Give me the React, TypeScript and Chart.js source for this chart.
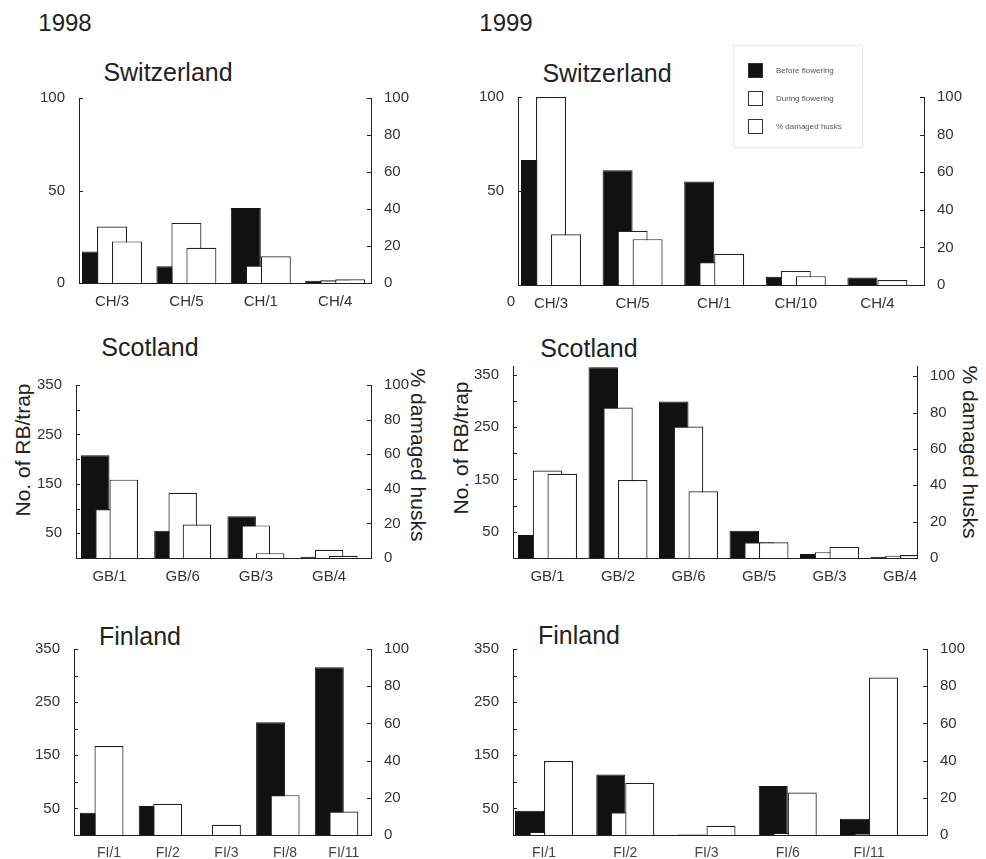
import React, { useEffect, useRef } from 'react';
import { Chart, registerables } from 'chart.js';

Chart.register(...registerables);

const FONT = '"Liberation Sans", Arial, Helvetica, sans-serif';

// ---------- DATA ----------
// 1998 Switzerland
const ch98Sites = ['CH/3', 'CH/5', 'CH/1', 'CH/4'];
const ch98Before = [17, 9, 40.5, 1.2];
const ch98During = [30.5, 32.5, 9.5, 1.5];
const ch98Pct = [22.5, 19, 14.5, 2];

// 1999 Switzerland
const ch99Sites = ['CH/3', 'CH/5', 'CH/1', 'CH/10', 'CH/4'];
const ch99Before = [66.5, 61, 55, 4.4, 4];
const ch99During = [100, 28.8, 12.2, 7.5, 0];
const ch99Pct = [27, 24.4, 16.6, 4.7, 2.6];

// 1998 Scotland
const gb98Sites = ['GB/1', 'GB/6', 'GB/3', 'GB/4'];
const gb98Before = [208, 55, 84.5, 2.5];
const gb98During = [99, 132, 66, 16.5];
const gb98Pct = [45.3, 19.4, 2.8, 1.3];

// 1999 Scotland
const gb99Sites = ['GB/1', 'GB/2', 'GB/6', 'GB/5', 'GB/3', 'GB/4'];
const gb99Before = [43.7, 364, 298.5, 51.8, 7.5, 2.4];
const gb99During = [166.8, 287, 251, 30, 11.2, 4.3];
const gb99Pct = [46.3, 42.9, 36.7, 8.6, 6.1, 1.6];

// 1998 Finland
const fi98Sites = ['FI/1', 'FI/2', 'FI/3', 'FI/8', 'FI/11'];
const fi98Before = [42, 54.6, 0, 212, 315.7];
const fi98During = [167.6, 58.9, 19.4, 75, 44];
const fi98Pct: (number | null)[] = [null, null, null, null, null];

// 1999 Finland
const fi99Sites = ['FI/1', 'FI/2', 'FI/3', 'FI/6', 'FI/11'];
const fi99Before = [45.8, 113.7, 1, 92, 30.5];
const fi99During = [6, 42.9, 0, 4, 2];
const fi99Pct = [39.8, 28, 5, 22.8, 84.7];

// axis ticks
const swissLeftTicks = [0, 50, 100];
const swissLeftLabels = [0, 50, 100];
const rbLeftTicks = [0, 50, 100, 150, 200, 250, 300, 350];
const rbLeftLabels = [50, 150, 250, 350];
const pctTicks = [0, 10, 20, 30, 40, 50, 60, 70, 80, 90, 100];
const pctLabels = [0, 20, 40, 60, 80, 100];

// ---------- LAYOUT ----------
type Panel = {
  sites: string[];
  before: (number | null)[];
  during: (number | null)[];
  pct: (number | null)[];
  leftMax: number;
  rightMax: number;
  leftTicks: number[];
  leftLabels: number[];
  L: number; R: number; T: number; B: number;
  c0: number; step: number; bar: number;
  xFontSize: number; xColor: string;
};

const panels: Panel[] = [
  { sites: ch98Sites, before: ch98Before, during: ch98During, pct: ch98Pct, leftMax: 100, rightMax: 100,
    leftTicks: swissLeftTicks, leftLabels: swissLeftLabels,
    L: 79, R: 371, T: 95, B: 283, c0: 112, step: 74.4, bar: 30, xFontSize: 15, xColor: '#333' },
  { sites: ch99Sites, before: ch99Before, during: ch99During, pct: ch99Pct, leftMax: 100, rightMax: 100,
    leftTicks: swissLeftTicks, leftLabels: [50, 100],
    L: 518, R: 924, T: 94, B: 285, c0: 551, step: 81.6, bar: 30, xFontSize: 15, xColor: '#333' },
  { sites: gb98Sites, before: gb98Before, during: gb98During, pct: gb98Pct, leftMax: 350, rightMax: 100,
    leftTicks: rbLeftTicks, leftLabels: rbLeftLabels,
    L: 76, R: 371, T: 382, B: 558, c0: 109.5, step: 73.2, bar: 28.5, xFontSize: 15, xColor: '#333' },
  { sites: gb99Sites, before: gb99Before, during: gb99During, pct: gb99Pct, leftMax: 366.3, rightMax: 105.6,
    leftTicks: rbLeftTicks, leftLabels: rbLeftLabels,
    L: 513, R: 917, T: 363, B: 558, c0: 547.5, step: 70.5, bar: 29.5, xFontSize: 15, xColor: '#333' },
  { sites: fi98Sites, before: fi98Before, during: fi98During, pct: fi98Pct, leftMax: 350, rightMax: 100,
    leftTicks: rbLeftTicks, leftLabels: rbLeftLabels,
    L: 74, R: 371, T: 646, B: 835, c0: 109, step: 58.7, bar: 29, xFontSize: 14, xColor: '#444' },
  { sites: fi99Sites, before: fi99Before, during: fi99During, pct: fi99Pct, leftMax: 350, rightMax: 100,
    leftTicks: rbLeftTicks, leftLabels: rbLeftLabels,
    L: 513, R: 927, T: 646, B: 835, c0: 544, step: 81.25, bar: 29, xFontSize: 14, xColor: '#444' },
];

const LW = 60, RW = 45, PT = 12, XH = 24;

const innerTicks = {
  id: 'innerTicks',
  afterDraw(chart: any) {
    const ctx = chart.ctx;
    const a = chart.chartArea;
    ctx.save();
    ctx.strokeStyle = '#222';
    ctx.lineWidth = 1;
    const ys = chart.scales.y;
    const yr = chart.scales.y1;
    ys.ticks.forEach((t: any) => {
      const py = Math.round(ys.getPixelForValue(t.value)) + 0.5;
      ctx.beginPath(); ctx.moveTo(a.left, py); ctx.lineTo(a.left + 4, py); ctx.stroke();
    });
    yr.ticks.forEach((t: any) => {
      const py = Math.round(yr.getPixelForValue(t.value)) + 0.5;
      ctx.beginPath(); ctx.moveTo(a.right - 4, py); ctx.lineTo(a.right, py); ctx.stroke();
    });
    ctx.restore();
  },
};

function PanelChart({ p }: { p: Panel }) {
  const ref = useRef<HTMLCanvasElement>(null);
  const plotW = p.R - p.L;
  const plotH = p.B - p.T;
  const W = plotW + LW + RW;
  const H = plotH + PT + XH;
  useEffect(() => {
    if (!ref.current) return;
    const xmin = (p.L - p.c0) / p.step;
    const xmax = (p.R - p.c0) / p.step;
    const d = p.bar / 2 / p.step;
    const clip = { left: 0, right: 0, top: 12, bottom: 2 } as any;
    const common = { barThickness: p.bar, grouped: false, borderSkipped: 'start', inflateAmount: 0, clip };
    const chart = new Chart(ref.current, {
      type: 'bar',
      data: {
        datasets: [
          { ...common, label: 'Before flowering', yAxisID: 'y', order: 3,
            data: p.before.map((v, i) => ({ x: i - d, y: v })),
            backgroundColor: '#111', borderColor: '#111', borderWidth: 1 },
          { ...common, label: 'During flowering', yAxisID: 'y', order: 2,
            data: p.during.map((v, i) => ({ x: i, y: v })),
            backgroundColor: '#fff', borderColor: '#222', borderWidth: 1.2 },
          { ...common, label: '% damaged husks', yAxisID: 'y1', order: 1,
            data: p.pct.map((v, i) => ({ x: i + d, y: v })),
            backgroundColor: '#fff', borderColor: '#222', borderWidth: 1.2 },
        ] as any,
      },
      options: {
        responsive: false,
        animation: false,
        layout: { padding: { top: PT, left: 0, right: 0, bottom: 0 } },
        plugins: { legend: { display: false }, tooltip: { enabled: false }, title: { display: false } },
        scales: {
          x: {
            type: 'linear', min: xmin, max: xmax, offset: false, bounds: 'data',
            grid: { display: false },
            border: { display: true, color: '#222', width: 1 },
            afterBuildTicks: (s: any) => { s.ticks = p.sites.map((_, i) => ({ value: i })); },
            afterFit: (s: any) => { s.height = XH; },
            ticks: {
              autoSkip: false, maxRotation: 0, minRotation: 0, padding: 2,
              callback: (v: any) => p.sites[Math.round(Number(v))] ?? '',
              font: { family: FONT, size: p.xFontSize }, color: p.xColor,
            },
          },
          y: {
            type: 'linear', position: 'left', min: 0, max: p.leftMax, bounds: 'data',
            grid: { display: false },
            border: { display: true, color: '#222', width: 1 },
            afterBuildTicks: (s: any) => { s.ticks = p.leftTicks.map((v) => ({ value: v })); },
            afterFit: (s: any) => { s.width = LW; },
            ticks: {
              padding: 6,
              callback: (v: any) => (p.leftLabels.includes(Number(v)) ? String(v) : ''),
              font: { family: FONT, size: 15 }, color: '#333',
            },
          },
          y1: {
            type: 'linear', position: 'right', min: 0, max: p.rightMax, bounds: 'data',
            grid: { display: false },
            border: { display: true, color: '#222', width: 1 },
            afterBuildTicks: (s: any) => { s.ticks = pctTicks.map((v) => ({ value: v })); },
            afterFit: (s: any) => { s.width = RW; },
            ticks: {
              padding: 5,
              callback: (v: any) => (pctLabels.includes(Number(v)) ? String(v) : ''),
              font: { family: FONT, size: 15 }, color: '#333',
            },
          },
        },
      } as any,
      plugins: [innerTicks],
    });
    return () => chart.destroy();
  }, []);
  return (
    <canvas
      ref={ref}
      width={W}
      height={H}
      style={{ position: 'absolute', left: p.L - LW, top: p.T - PT, width: W, height: H }}
    />
  );
}

function Txt({ x, y, size, children, rot = 0, color = '#222' }: any) {
  return (
    <div
      style={{
        position: 'absolute', left: x, top: y, fontFamily: FONT, fontSize: size, color,
        whiteSpace: 'nowrap', lineHeight: 1,
        transform: `translate(-50%, -50%) rotate(${rot}deg)`,
      }}
    >
      {children}
    </div>
  );
}

function Legend() {
  const items = [
    { label: 'Before flowering', fill: '#111' },
    { label: 'During flowering', fill: '#fff' },
    { label: '% damaged husks', fill: '#fff' },
  ];
  return (
    <div
      style={{
        position: 'absolute', left: 733, top: 45, width: 130, height: 103,
        border: '1px solid #ececec', boxShadow: '0 0 2px #eee', background: '#fff', boxSizing: 'border-box',
      }}
    >
      {items.map((it, i) => (
        <div key={i} style={{ position: 'absolute', left: 14, top: 17 + i * 28, display: 'flex', alignItems: 'center' }}>
          <div style={{ width: 15, height: 15, background: it.fill, border: '1px solid #333', boxSizing: 'border-box' }} />
          <span style={{ marginLeft: 13, fontFamily: FONT, fontSize: 8, color: '#555' }}>{it.label}</span>
        </div>
      ))}
    </div>
  );
}

export default function App() {
  return (
    <div style={{ position: 'absolute', left: 0, top: 0, width: 986, height: 859, background: '#fff', overflow: 'hidden' }}>
      <Txt x={65} y={23} size={24}>1998</Txt>
      <Txt x={506} y={23} size={24}>1999</Txt>
      <Txt x={168} y={72} size={25}>Switzerland</Txt>
      <Txt x={607} y={73} size={25}>Switzerland</Txt>
      <Txt x={150} y={347} size={25}>Scotland</Txt>
      <Txt x={589} y={348} size={25}>Scotland</Txt>
      <Txt x={140} y={636} size={25}>Finland</Txt>
      <Txt x={579} y={635} size={25}>Finland</Txt>
      <Txt x={22} y={450} size={21} rot={-90}>No. of RB/trap</Txt>
      <Txt x={460} y={448} size={21} rot={-90}>No. of RB/trap</Txt>
      <Txt x={418} y={455} size={21} rot={90}>% damaged husks</Txt>
      <Txt x={970} y={452} size={21} rot={90}>% damaged husks</Txt>
      {panels.map((p, i) => <PanelChart key={i} p={p} />)}
      <Txt x={511} y={300} size={15} color="#333">0</Txt>
      <Legend />
    </div>
  );
}
